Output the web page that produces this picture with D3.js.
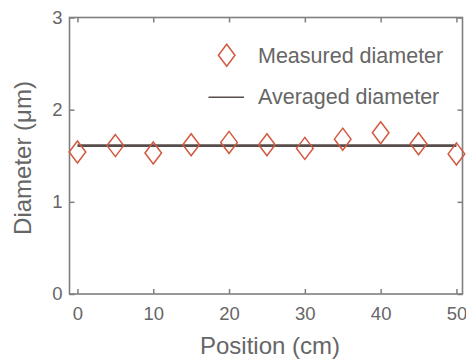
<!DOCTYPE html>
<html>
<head>
<meta charset="utf-8">
<script src="https://cdn.jsdelivr.net/npm/d3@7"></script>
<style>
  body { margin: 0; background: #fff; }
  text { font-family: "Liberation Sans", Arial, sans-serif; fill: #666; }
</style>
</head>
<body>
<script>
// data
var positions = [0, 5, 10, 15, 20, 25, 30, 35, 40, 45, 50];
var diameters = [1.54, 1.61, 1.53, 1.62, 1.645, 1.62, 1.58, 1.68, 1.75, 1.63, 1.52];
var averaged = 1.61;
var xTicks = [0, 10, 20, 30, 40, 50];
var yTicks = [0, 1, 2, 3];
var legendLabels = ['Measured diameter', 'Averaged diameter'];

var W = 466, H = 359;
// plot box (note: "top" is taken by window.top)
var boxL = 69.5, boxR = 462.5, boxT = 17.5, boxB = 294;

var markerColor = '#d2583f';
var axisColor = '#7f7f7f';

var svg = d3.select('body').append('svg')
  .attr('width', W)
  .attr('height', H);

var x = d3.scaleLinear().domain([-1.05, 50.8]).range([boxL, boxR]);
var y = d3.scaleLinear().domain([0, 3]).range([boxB, boxT]);

function diamond(cx, cy) {
  var hw = 8.3, hh = 11;
  return 'M' + cx + ',' + (cy - hh) + 'L' + (cx + hw) + ',' + cy +
    'L' + cx + ',' + (cy + hh) + 'L' + (cx - hw) + ',' + cy + 'Z';
}

// axes, ticks point inward
var xb = svg.append('g')
  .attr('transform', 'translate(0,' + boxB + ')')
  .call(d3.axisBottom(x).tickValues(xTicks).tickSize(-5).tickPadding(13));
var xt = svg.append('g')
  .attr('transform', 'translate(0,' + boxT + ')')
  .call(d3.axisTop(x).tickValues(xTicks).tickSize(-5).tickFormat(''));
var yl = svg.append('g')
  .attr('transform', 'translate(' + boxL + ',0)')
  .call(d3.axisLeft(y).tickValues(yTicks).tickSize(-5).tickPadding(7).tickFormat(d3.format('d')));
var yr = svg.append('g')
  .attr('transform', 'translate(' + boxR + ',0)')
  .call(d3.axisRight(y).tickValues(yTicks).tickSize(-5).tickFormat(''));

[xb, xt, yl, yr].forEach(function(g) {
  g.select('.domain').remove();
  g.selectAll('line').attr('stroke', axisColor).attr('stroke-width', 1.5);
  g.selectAll('text')
    .style('font-family', '"Liberation Sans", Arial, sans-serif')
    .style('font-size', '18.5px')
    .attr('fill', '#666');
});

svg.append('rect')
  .attr('x', boxL).attr('y', boxT)
  .attr('width', boxR - boxL).attr('height', boxB - boxT)
  .attr('fill', 'none')
  .attr('stroke', axisColor)
  .attr('stroke-width', 1.6);

// averaged line
svg.append('line')
  .attr('x1', x(0)).attr('x2', x(50))
  .attr('y1', y(averaged)).attr('y2', y(averaged))
  .attr('stroke', '#574d4b')
  .attr('stroke-width', 2.6);

// measured points
svg.selectAll('.pt')
  .data(positions)
  .enter()
  .append('path')
  .attr('class', 'pt')
  .attr('d', function(d, i) { return diamond(x(d), y(diameters[i])); })
  .attr('fill', 'none')
  .attr('stroke', markerColor)
  .attr('stroke-width', 1.5);

// legend
svg.append('path')
  .attr('d', diamond(226.7, 55.3))
  .attr('fill', 'none')
  .attr('stroke', markerColor)
  .attr('stroke-width', 1.5);
svg.append('line')
  .attr('x1', 208.5).attr('x2', 244)
  .attr('y1', 97.3).attr('y2', 97.3)
  .attr('stroke', '#574d4b')
  .attr('stroke-width', 1.6);

legendLabels.forEach(function(d, i) {
  svg.append('text')
    .text(d)
    .attr('x', 258)
    .attr('y', 62.5 + i * 41.5)
    .style('font-size', '21.5px');
});

// axis titles
svg.append('text')
  .text('Position (cm)')
  .attr('text-anchor', 'middle')
  .attr('x', 270)
  .attr('y', 354)
  .style('font-size', '24px');

svg.append('text')
  .text('Diameter (\u03bcm)')
  .attr('text-anchor', 'middle')
  .attr('transform', 'translate(31,158) rotate(-90)')
  .style('font-size', '24px');
</script>
</body>
</html>
